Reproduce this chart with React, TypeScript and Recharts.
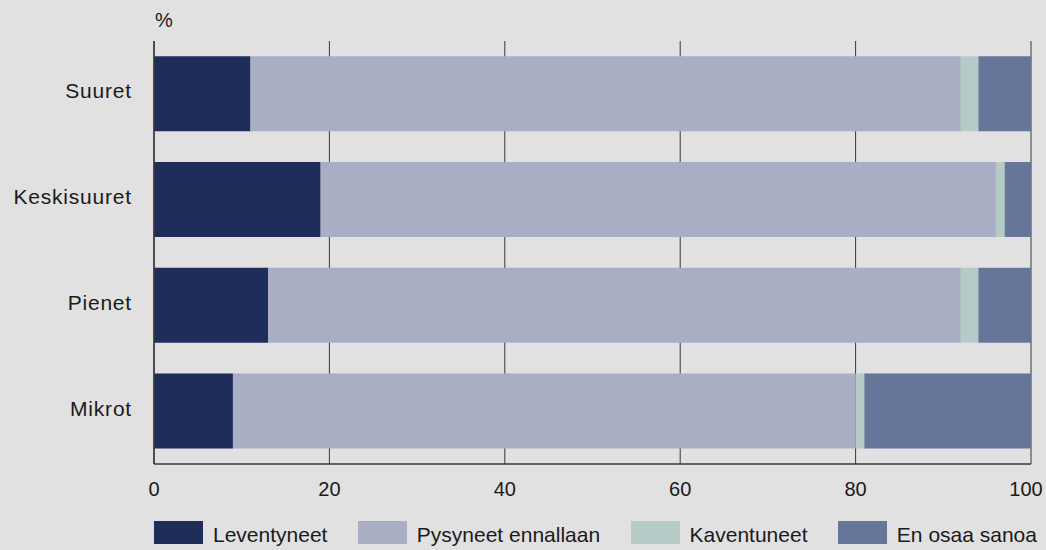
import { BarChart, Bar, XAxis, YAxis, CartesianGrid, Legend } from "recharts";

const CATEGORIES = ["Suuret", "Keskisuuret", "Pienet", "Mikrot"];
const LEVENTYNEET = [11, 19, 13, 9];
const PYSYNEET = [81, 77, 79, 71];
const KAVENTUNEET = [2, 1, 2, 1];
const EN_OSAA = [6, 3, 6, 19];
const X_TICKS = [0, 20, 40, 60, 80, 100];

const SERIES = [
  { key: "leventyneet", name: "Leventyneet", color: "#1e2d5a" },
  { key: "pysyneet", name: "Pysyneet ennallaan", color: "#a9aec4" },
  { key: "kaventuneet", name: "Kaventuneet", color: "#b4cbc8" },
  { key: "enOsaa", name: "En osaa sanoa", color: "#667699" },
];

const data = CATEGORIES.map((name, i) => ({
  name,
  leventyneet: LEVENTYNEET[i],
  pysyneet: PYSYNEET[i],
  kaventuneet: KAVENTUNEET[i],
  enOsaa: EN_OSAA[i],
}));

const FONT = "'Liberation Sans', Arial, sans-serif";
const BG = "#e1e1e1";
const LINE = "#383838";

function LegendContent() {
  return (
    <div style={{ display: "flex", justifyContent: "space-between", width: 883, fontFamily: FONT }}>
      {SERIES.map((s) => (
        <div key={s.key} style={{ display: "flex", alignItems: "center" }}>
          <div style={{ width: 49, height: 23, background: s.color }} />
          <span style={{ marginLeft: 10, fontSize: 21, color: "#1a1a1a", paddingTop: 5 }}>{s.name}</span>
        </div>
      ))}
    </div>
  );
}

// last tick label is pulled a bit left so it stays inside the picture
function XTick(props: any) {
  const { x, y, payload } = props;
  const isLast = payload.value === X_TICKS[X_TICKS.length - 1];
  return (
    <text
      x={x}
      y={y}
      dx={isLast ? -5 : 0}
      dy={16}
      textAnchor="middle"
      fill="#1a1a1a"
      fontSize={20}
      fontFamily={FONT}
    >
      {payload.value}
    </text>
  );
}

export default function App() {
  return (
    <div style={{ position: "fixed", left: 0, top: 0, width: 1046, height: 550, background: BG }}>
      <div style={{ position: "absolute", left: 155, top: 9, fontFamily: FONT, fontSize: 20, color: "#1a1a1a" }}>%</div>
      <BarChart
        width={1046}
        height={550}
        data={data}
        layout="vertical"
        margin={{ top: 41, right: 15, bottom: 0, left: 0 }}
        barCategoryGap="14.5%"
      >
        <CartesianGrid xAxisId="bottom" yAxisId="left" horizontal={false} stroke={LINE} strokeWidth={1} />
        <XAxis
          xAxisId="bottom"
          type="number"
          domain={[0, 100]}
          ticks={X_TICKS}
          height={56}
          tickLine={false}
          tickSize={0}
          tickMargin={16}
          axisLine={{ stroke: LINE, strokeWidth: 1.5 }}
          tick={<XTick />}
        />
        <XAxis
          xAxisId="top"
          orientation="top"
          type="number"
          domain={[0, 100]}
          ticks={X_TICKS}
          height={0}
          tick={false}
          tickLine={false}
          axisLine={{ stroke: LINE, strokeWidth: 1.5 }}
        />
        <YAxis
          yAxisId="left"
          type="category"
          dataKey="name"
          width={154}
          tickLine={false}
          tickSize={0}
          tickMargin={22}
          axisLine={{ stroke: LINE, strokeWidth: 1.5 }}
          tick={{ fill: "#1a1a1a", fontSize: 21, fontFamily: FONT, letterSpacing: 0.8, dy: -3 }}
        />
        <YAxis
          yAxisId="right"
          orientation="right"
          type="category"
          dataKey="name"
          width={0}
          tick={false}
          tickLine={false}
          axisLine={{ stroke: LINE, strokeWidth: 1.5 }}
        />
        <Legend
          verticalAlign="bottom"
          content={<LegendContent />}
          wrapperStyle={{ left: 154, top: 518, bottom: "auto", width: 883, height: 30 }}
        />
        {SERIES.map((s) => (
          <Bar
            key={s.key}
            dataKey={s.key}
            name={s.name}
            stackId="a"
            fill={s.color}
            xAxisId="bottom"
            yAxisId="left"
            isAnimationActive={false}
          />
        ))}
      </BarChart>
    </div>
  );
}
